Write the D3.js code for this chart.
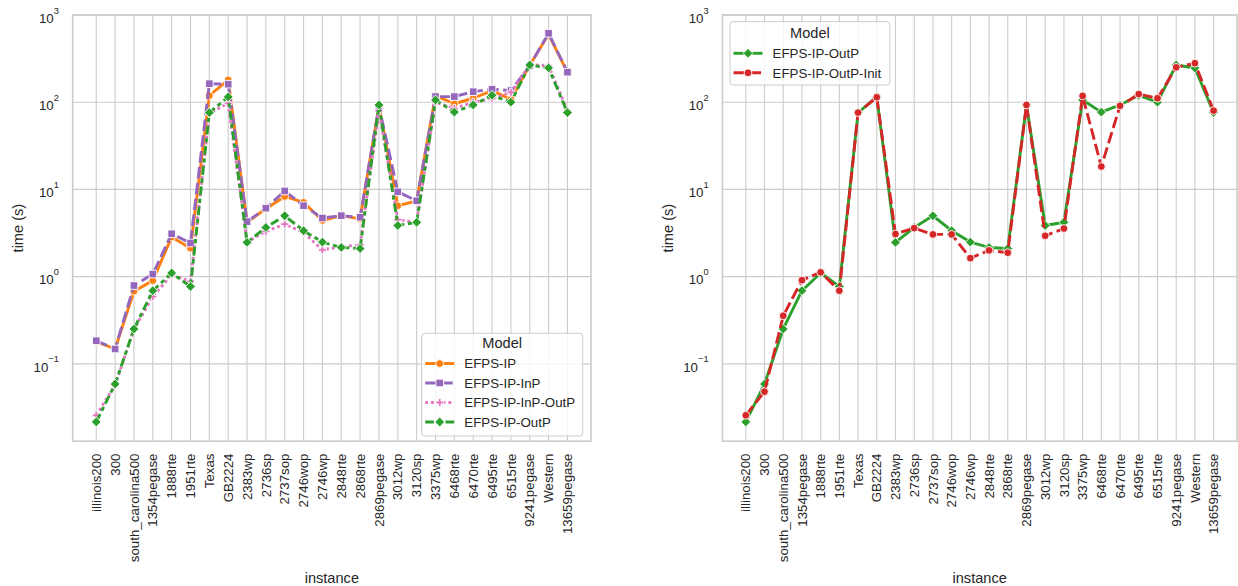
<!DOCTYPE html>
<html><head><meta charset="utf-8">
<script src="https://cdn.jsdelivr.net/npm/d3@7"></script>
<style>
body{margin:0;background:#fff}
text{font-family:"Liberation Sans",Arial,sans-serif;fill:#262626}
</style>
</head><body>
<svg id="chart" width="1238" height="586"></svg>
<script>
// ---------------- data ----------------
const instances = ["illinois200","300","south_carolina500","1354pegase","1888rte","1951rte","Texas","GB2224","2383wp","2736sp","2737sop","2746wop","2746wp","2848rte","2868rte","2869pegase","3012wp","3120sp","3375wp","6468rte","6470rte","6495rte","6515rte","9241pegase","Western","13659pegase"];

const modelsLeft  = ["EFPS-IP","EFPS-IP-InP","EFPS-IP-InP-OutP","EFPS-IP-OutP"];
const modelsRight = ["EFPS-IP-OutP","EFPS-IP-OutP-Init"];

const timeIP         = [0.18, 0.148, 0.68, 0.90, 2.84, 2.12, 119, 180, 4.2, 6.0, 8.3, 7.1, 4.4, 5.0, 4.6, 90, 6.5, 7.4, 119, 96, 111, 136, 108, 265, 600, 220];
const timeIPInP      = [0.184, 0.148, 0.79, 1.07, 3.1, 2.43, 163, 161, 4.27, 6.1, 9.6, 6.5, 4.7, 5.0, 4.8, 90, 9.4, 7.4, 116, 116, 132, 141, 136, 262, 617, 221];
const timeIPInPOutP  = [0.0257, 0.057, 0.25, 0.59, 1.05, 0.88, 75, 97, 2.5, 3.3, 4.0, 3.2, 2.03, 2.2, 2.32, 80, 4.5, 4.2, 100, 85, 100, 110, 130, 270, 262, 80];
const timeIPOutP     = [0.0216, 0.0587, 0.251, 0.69, 1.1, 0.77, 76, 115, 2.47, 3.66, 4.99, 3.36, 2.49, 2.16, 2.10, 93, 3.86, 4.2, 106, 77, 93, 120, 100, 267, 247, 76];
const timeIPOutPInit = [0.0257, 0.048, 0.356, 0.91, 1.12, 0.69, 76, 114, 3.08, 3.6, 3.05, 3.05, 1.63, 2.0, 1.88, 93, 2.94, 3.56, 118, 18.3, 91, 124, 111, 251, 280, 80];

const yTickExponents = [-1, 0, 1, 2, 3];
const xAxisLabel = "instance";
const yAxisLabel = "time (s)";
const legendTitle = "Model";

// ---------------- styles ----------------
const LW = 2.9;
const styleOf = {
  "EFPS-IP":           {color:"#ff7f0e", dash:null,                     marker:"circle"},
  "EFPS-IP-InP":       {color:"#9467bd", dash:[4,1.5],                  marker:"square"},
  "EFPS-IP-InP-OutP":  {color:"#e377c2", dash:[1,1],                    marker:"plus"},
  "EFPS-IP-OutP":      {color:"#2ca02c", dash:[3,1.25,1.5,1.25],        marker:"diamond"},
};
const styleRight = {
  "EFPS-IP-OutP":      {color:"#2ca02c", dash:null,    marker:"diamond"},
  "EFPS-IP-OutP-Init": {color:"#d62728", dash:[4,1.5], marker:"circle"},
};
const seriesData = {
  "EFPS-IP": timeIP, "EFPS-IP-InP": timeIPInP, "EFPS-IP-InP-OutP": timeIPInPOutP,
  "EFPS-IP-OutP": timeIPOutP, "EFPS-IP-OutP-Init": timeIPOutPInit
};

function markerPath(kind){
  if(kind==="circle"){ const r=3.9; return `M${-r},0A${r},${r} 0 1,0 ${r},0A${r},${r} 0 1,0 ${-r},0Z`; }
  if(kind==="square"){ const h=3.8; return `M${-h},${-h}H${h}V${h}H${-h}Z`; }
  if(kind==="diamond"){ const h=4.9; return `M0,${-h}L${h},0L0,${h}L${-h},0Z`; }
  if(kind==="plus"){ const a=4.0, b=1.35; return `M${-b},${-a}H${b}V${-b}H${a}V${b}H${b}V${a}H${-b}V${b}H${-a}V${-b}H${-b}Z`; }
}

const svg = d3.select("#chart");
const TOP = 15, BOTTOM = 441.2;
const y = d3.scaleLog().domain([Math.pow(10,-1.887), 1000]).range([BOTTOM, TOP]);

function drawPanel(left, right, models, styles, legend){
  const g = svg.append("g");
  const x = d3.scalePoint().domain(instances).range([left, right]).padding(1.25);

  // grid
  g.selectAll(".vg").data(instances).enter().append("line")
    .attr("x1", d=>x(d)).attr("x2", d=>x(d)).attr("y1", TOP).attr("y2", BOTTOM)
    .attr("stroke","#cccccc").attr("stroke-width",1.1);
  g.selectAll(".hg").data(yTickExponents).enter().append("line")
    .attr("x1", left).attr("x2", right)
    .attr("y1", d=>y(Math.pow(10,d))).attr("y2", d=>y(Math.pow(10,d)))
    .attr("stroke","#cccccc").attr("stroke-width",1.1);

  // y tick labels
  yTickExponents.forEach(e=>{
    const t = g.append("text").attr("x", left-13.8).attr("y", y(Math.pow(10,e))+7.7)
      .attr("text-anchor","end").style("font-size","13.3px");
    t.append("tspan").text("10");
    t.append("tspan").attr("dy",-9.2).style("font-size","9.3px").text(e<0 ? "\u2212"+(-e) : String(e));
  });

  // x tick labels
  g.selectAll(".xt").data(instances).enter().append("text")
    .attr("transform", d=>`translate(${x(d)},453.5) rotate(-90)`)
    .attr("text-anchor","end").attr("dy","0.35em").style("font-size","13.3px")
    .text(d=>d);

  // axis labels
  g.append("text").attr("x",(left+right)/2).attr("y",582.5).attr("text-anchor","middle")
    .style("font-size","14.6px").text(xAxisLabel);
  g.append("text").attr("transform",`translate(${left-54.8},${(TOP+BOTTOM)/2}) rotate(-90)`)
    .attr("text-anchor","middle").attr("dy","0.35em").style("font-size","14.6px").text(yAxisLabel);

  // series
  const line = d3.line().x((d,i)=>x(instances[i])).y(d=>y(d));
  models.forEach(m=>{
    const st = styles[m], vals = seriesData[m];
    g.append("path").attr("d", line(vals)).attr("fill","none").attr("stroke",st.color)
      .attr("stroke-width",LW).attr("stroke-linejoin","round")
      .attr("stroke-dasharray", st.dash ? st.dash.map(v=>v*LW).join(",") : null);
    g.selectAll(null).data(vals).enter().append("path")
      .attr("d", markerPath(st.marker))
      .attr("transform",(d,i)=>`translate(${x(instances[i])},${y(d)})`)
      .attr("fill",st.color).attr("stroke","#fff").attr("stroke-width",0.9);
  });

  // frame
  g.append("rect").attr("x",left).attr("y",TOP).attr("width",right-left).attr("height",BOTTOM-TOP)
    .attr("fill","none").attr("stroke","#cccccc").attr("stroke-width",1.6);

  // legend
  const L = legend;
  const lg = g.append("g");
  lg.append("rect").attr("x",L.x).attr("y",L.y).attr("width",L.w).attr("height",L.h)
    .attr("rx",3).attr("fill","#fff").attr("fill-opacity",0.8).attr("stroke","#cccccc").attr("stroke-width",1);
  lg.append("text").attr("x",L.x+L.w/2).attr("y",L.titleY).attr("text-anchor","middle")
    .style("font-size","14.6px").text(legendTitle);
  models.forEach((m,i)=>{
    const st = styles[m];
    const cy = L.firstY + i*19.5;
    lg.append("line").attr("x1",L.x+3.5).attr("x2",L.x+32.5).attr("y1",cy).attr("y2",cy)
      .attr("stroke",st.color).attr("stroke-width",LW)
      .attr("stroke-dasharray", st.dash ? st.dash.map(v=>v*LW).join(",") : null);
    lg.append("path").attr("d",markerPath(st.marker)).attr("transform",`translate(${L.x+18},${cy})`)
      .attr("fill",st.color).attr("stroke","#fff").attr("stroke-width",0.9);
    lg.append("text").attr("x",L.x+42.6).attr("y",cy+4.8).style("font-size","13.3px").text(m);
  });
}

drawPanel(72.7, 591, modelsLeft, styleOf, {x:421.7, y:333.3, w:161, h:102.7, titleY:348.3, firstY:363.5});
drawPanel(722.4, 1237, modelsRight, styleRight, {x:730, y:21.7, w:159.8, h:63.3, titleY:38.3, firstY:53.3});
</script>
</body></html>
